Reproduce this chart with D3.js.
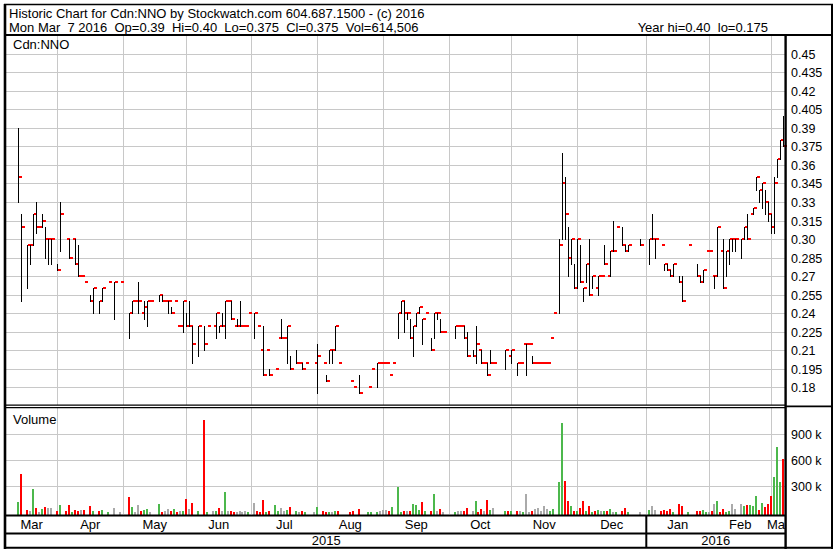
<!DOCTYPE html>
<html><head><meta charset="utf-8">
<script src="https://cdn.jsdelivr.net/npm/d3@7"></script>
<style>
html,body{margin:0;padding:0;background:#fff;}
svg{display:block;font-family:"Liberation Sans",Arial,sans-serif;}
</style></head><body>
<svg id="c" width="838" height="553"></svg>
<script>
// ---------- DATA ----------
const headerTitle = "Historic Chart for Cdn:NNO by Stockwatch.com 604.687.1500 - (c) 2016";
const headerDay = "Mon Mar  7 2016  Op=0.39  Hi=0.40  Lo=0.375  Cl=0.375  Vol=614,506";
const headerYear = "Year hi=0.40  lo=0.175";
const symbolLabel = "Cdn:NNO";
const volumeLabel = "Volume";
const startDate = "2015-03-09";   // weekday index 0
const lastIndex = 260;            // 2016-03-07

// weekday index of each trading bar
const dayIdx = [4,5,7,8,9,10,11,12,13,14, 15,17,18,20,21,22,23,24,25,26,
 28,29,31,32,34,36,38,41,42,43, 44,45,46,47,48,51,52,53,54,55,
 56,57,58,59,60,61,62,64,66,67, 69,70,71,72,73,74,75,76,77,78,
 79,80,81,83,84,85,86,87,88,90, 91,92,93,94,95,97,98,99,100,103,
 104,106,107,108,109,110,111,115,116,118, 121,122,124,125,126,127,128,129,131,132,
 133,134,135,136,137,138,139,140,142,143, 144,145,146,150,151,152,153,154,156,157,
 158,159,160,161,162,163,167,168,169,171, 172,173,174,175,176,177,178,179,180,181,
 182,183,185,186,187,188,189,190,191,192, 193,194,195,196,197,198,199,200,201,202,
 203,204,206,207,208,212,215,216,217,219, 220,221,222,223,225,226,228,231,232,233,
 234,235,236,237,238,239,240,241,242,243, 244,246,247,248,249,250,251,252,253,254,
 255,256,257,258,259,260];
const high = [.39,.32,.295,.295,.32,.33,.31,.32,.31,.30, .30,.28,.33,.30,.30,.30,.30,.295,.27,.265,
 .255,.26,.25,.26,.265,.265,.265,.24,.25,.25, .265,.24,.25,.25,.25,.255,.255,.25,.25,.245,
 .25,.23,.23,.25,.24,.25,.23,.23,.23,.23, .23,.24,.23,.24,.25,.25,.25,.23,.235,.25,
 .23,.23,.24,.24,.23,.21,.23,.21,.195,.195, .22,.235,.22,.23,.205,.21,.20,.20,.20,.20,
 .215,.20,.19,.21,.21,.23,.20,.185,.18,.19, .18,.195,.20,.20,.20,.20,.19,.20,.24,.25,
 .25,.24,.235,.23,.24,.245,.235,.24,.22,.24, .24,.235,.225,.23,.23,.23,.23,.225,.21,.23,
 .21,.21,.20,.20,.21,.20,.21,.205,.21,.20, .20,.215,.215,.215,.205,.20,.20,.20,.20,.20,
 .22,.24,.30,.37,.35,.31,.30,.28,.30,.295, .26,.28,.30,.27,.26,.27,.27,.295,.27,.29,
 .315,.31,.31,.295,.295,.30,.30,.32,.30,.295, .28,.28,.275,.28,.27,.27,.295,.28,.27,.275,
 .29,.29,.27,.27,.31,.29,.30,.29,.30,.30, .30,.30,.31,.32,.32,.325,.35,.34,.345,.34,
 .33,.32,.35,.365,.38,.40];
const low = [.33,.25,.26,.28,.295,.305,.31,.31,.285,.28, .28,.275,.29,.30,.285,.30,.28,.27,.27,.265,
 .25,.24,.24,.25,.265,.235,.265,.22,.24,.25, .24,.24,.235,.23,.25,.25,.25,.25,.24,.24,
 .25,.23,.23,.225,.23,.23,.20,.205,.21,.23, .23,.22,.225,.23,.22,.25,.235,.23,.23,.23,
 .23,.23,.24,.22,.23,.21,.19,.21,.19,.195, .22,.22,.22,.20,.195,.20,.20,.195,.20,.20,
 .175,.20,.185,.20,.20,.21,.20,.185,.18,.175, .18,.195,.18,.20,.20,.20,.19,.20,.22,.24,
 .225,.235,.22,.205,.23,.24,.215,.24,.21,.22, .235,.225,.225,.22,.23,.23,.22,.205,.205,.20,
 .21,.20,.20,.19,.20,.20,.195,.205,.20,.19, .20,.215,.19,.215,.20,.20,.20,.20,.20,.20,
 .22,.24,.24,.30,.30,.27,.28,.26,.26,.265, .25,.265,.255,.26,.26,.255,.27,.28,.27,.27,
 .29,.31,.295,.29,.29,.295,.28,.30,.285,.295, .275,.275,.27,.27,.265,.25,.295,.27,.265,.265,
 .29,.29,.27,.26,.27,.29,.26,.27,.28,.29, .29,.285,.30,.30,.32,.32,.34,.33,.325,.32,
 .315,.305,.305,.35,.365,.375];
const close = [.35,.31,.295,.295,.32,.31,.31,.315,.30,.30, .30,.275,.32,.30,.285,.30,.28,.27,.27,.265,
 .25,.26,.25,.26,.265,.265,.265,.24,.25,.25, .25,.24,.245,.25,.25,.255,.25,.25,.25,.24,
 .25,.23,.23,.25,.23,.23,.215,.23,.215,.23, .23,.24,.23,.23,.25,.25,.235,.23,.23,.23,
 .23,.23,.24,.24,.23,.21,.19,.21,.19,.195, .22,.22,.22,.23,.195,.20,.20,.195,.20,.20,
 .205,.20,.185,.21,.21,.23,.20,.185,.18,.175, .18,.195,.20,.20,.20,.20,.19,.20,.24,.25,
 .24,.24,.22,.23,.24,.245,.235,.24,.21,.24, .24,.225,.225,.23,.23,.23,.22,.205,.205,.215,
 .21,.20,.20,.19,.20,.20,.21,.205,.21,.20, .20,.215,.215,.215,.20,.20,.20,.20,.20,.20,
 .22,.24,.295,.345,.32,.285,.30,.26,.30,.265, .26,.28,.255,.27,.26,.27,.27,.28,.27,.29,
 .29,.31,.295,.29,.295,.295,.30,.30,.30,.295, .28,.275,.27,.28,.265,.25,.295,.27,.265,.275,
 .29,.29,.27,.27,.31,.29,.26,.29,.30,.30, .30,.30,.31,.30,.32,.325,.35,.34,.345,.33,
 .32,.31,.345,.365,.38,.375];
const volume = [121000,444000,29000,10000,271000,52000,8000,35000,63000,46000, 52000,17000,87000,10000,87000,5000,29000,17000,29000,29000,
 75000,17000,10000,29000,5000,52000,5000,179000,63000,5000, 87000,10000,29000,40000,8000,98000,5000,17000,40000,10000,
 40000,5000,10000,10000,156000,40000,110000,10000,1060000,5000, 10000,17000,52000,10000,237000,10000,10000,5000,5000,10000,
 5000,10000,5000,110000,10000,5000,144000,5000,17000,87000, 17000,52000,10000,29000,63000,10000,5000,17000,5000,5000,
 63000,10000,5000,5000,5000,17000,10000,5000,17000,40000, 5000,5000,5000,10000,29000,29000,10000,63000,294000,5000,
 17000,10000,17000,98000,87000,30000,121000,10000,10000,213000, 17000,40000,5000,5000,17000,10000,10000,52000,10000,133000,
 5000,40000,10000,144000,29000,52000,17000,10000,17000,17000, 17000,5000,213000,5000,17000,40000,52000,10000,75000,40000,
 10000,40000,352000,1033000,363000,133000,75000,10000,17000,52000, 133000,10000,75000,5000,17000,29000,10000,17000,10000,40000,
 5000,5000,17000,52000,5000,5000,29000,75000,29000,10000, 29000,10000,40000,5000,98000,75000,5000,10000,10000,29000,
 5000,5000,17000,98000,133000,5000,40000,5000,17000,98000, 40000,98000,75000,87000,87000,75000,190000,29000,110000,63000,
 98000,190000,410000,752000,352000,614506];

const priceTicks = [0.18,0.195,0.21,0.225,0.24,0.255,0.27,0.285,0.30,0.315,0.33,0.345,0.36,0.375,0.39,0.405,0.42,0.435,0.45];
const priceTickLabels = ["0.18","0.195","0.21","0.225","0.24","0.255","0.27","0.285","0.30","0.315","0.33","0.345","0.36","0.375","0.39","0.405","0.42","0.435","0.45"];
const volumeTicks = [300000,600000,900000];
const volumeTickLabels = ["300 k","600 k","900 k"];
const monthLabels = ["Mar","Apr","May","Jun","Jul","Aug","Sep","Oct","Nov","Dec","Jan","Feb","Mar"];
const yearLabels = ["2015","2016"];

// ---------- LAYOUT ----------
const plotL = 6, plotR = 785;
const priceTop = 36, priceBot = 405;
const volTop = 408, volBot = 514;
const svg = d3.select("#c");

const x = d3.scaleLinear().domain([0, lastIndex]).range([6.5, 783.2]);
const yP = d3.scaleLinear().domain([0.18, 0.45]).range([387.3, 53.8]);
const yV = d3.scaleLinear().domain([0, 900000]).range([512.3, 434.3]);

// weekday calendar
const t0 = d3.utcParse("%Y-%m-%d")(startDate);
const cal = [];
for (let d = t0; cal.length <= lastIndex; d = d3.utcDay.offset(d, 1)) {
  const wd = d.getUTCDay();
  if (wd > 0 && wd < 6) cal.push(d);
}
const monthBounds = [];
for (let k = 1; k < cal.length; k++) {
  if (cal[k].getUTCMonth() !== cal[k-1].getUTCMonth()) {
    const first = d3.utcMonth.floor(cal[k]);
    monthBounds.push(+first === +cal[k] ? k : k - 1);
  }
}
const boundX = monthBounds.map(k => Math.round(x(k)) + 0.3);
const yearBoundX = boundX[monthLabels.indexOf("Jan") - 1];

const grid = "#c8c8c8";
const gGrid = svg.append("g").attr("stroke", grid).attr("stroke-width", 1).attr("shape-rendering","crispEdges");
boundX.forEach(bx => {
  gGrid.append("line").attr("x1", bx).attr("x2", bx).attr("y1", priceTop).attr("y2", priceBot);
  gGrid.append("line").attr("x1", bx).attr("x2", bx).attr("y1", volTop).attr("y2", volBot);
});
priceTicks.forEach(v => {
  const yy = Math.round(yP(v)) + 0.5;
  gGrid.append("line").attr("x1", plotL).attr("x2", plotR).attr("y1", yy).attr("y2", yy);
});
volumeTicks.forEach(v => {
  const yy = Math.round(yV(v)) + 0.5;
  gGrid.append("line").attr("x1", plotL).attr("x2", plotR).attr("y1", yy).attr("y2", yy);
});

// ---------- PRICE BARS ----------
const bars = dayIdx.map((k, j) => ({k, h: high[j], l: low[j], c: close[j], v: volume[j], pc: j > 0 ? close[j-1] : null}));
const gTicks = svg.append("g").attr("shape-rendering","crispEdges");
const gBars = svg.append("g").attr("shape-rendering","crispEdges");
bars.forEach(b => {
  const px = Math.round(x(b.k));
  if (b.h !== b.l) {
    gBars.append("rect").attr("x", px).attr("width", 1)
      .attr("y", Math.round(yP(b.h))).attr("height", Math.max(1, Math.round(yP(b.l)) - Math.round(yP(b.h)) + 1))
      .attr("fill", "#000");
  }
  gTicks.append("rect").attr("x", px + 1).attr("width", 3)
    .attr("y", Math.round(yP(b.c)) - 1).attr("height", 2).attr("fill", "#ff0000");
});

// ---------- VOLUME BARS ----------
const gVol = svg.append("g").attr("shape-rendering","crispEdges");
bars.forEach(b => {
  const px = Math.round(x(b.k));
  let col = "#aaaaaa";
  if (b.pc === null || b.c > b.pc) col = "#4cb84c";
  else if (b.c < b.pc) col = "#ff0000";
  const top = Math.round(yV(b.v));
  gVol.append("rect").attr("x", px - 1).attr("width", 2)
    .attr("y", top).attr("height", Math.max(1, 515 - top)).attr("fill", col);
});

// ---------- FRAME ----------
const gF = svg.append("g").attr("stroke", "#000").attr("fill", "none");
const ln = (x1, y1, x2, y2, w) => gF.append("line").attr("x1", x1).attr("y1", y1).attr("x2", x2).attr("y2", y2).attr("stroke-width", w);
ln(4, 4.5, 833, 4.5, 1.6);            // top
ln(5, 4, 5, 549, 2.6);                // left
ln(832, 4, 832, 549, 2);              // right
ln(4, 547.8, 833, 547.8, 2);          // bottom
ln(4, 35, 833, 35, 2);                // header separator
ln(785.6, 35, 785.6, 549, 2.4);       // plot right
ln(5, 405.2, 785, 405.2, 1.2);        // double line
ln(5, 407.6, 785, 407.6, 1.2);
ln(785, 406.4, 833, 406.4, 1.6);
ln(5, 515.6, 786, 515.6, 2);          // x axis
ln(5, 533.6, 786, 533.6, 2);          // month row bottom
ln(yearBoundX, 515, yearBoundX, 548, 2); // year divider

// ---------- TEXT ----------
const gT = svg.append("g").attr("fill", "#000").style("font-size", "13px");
gT.append("text").attr("x", 9).attr("y", 18).text(headerTitle);
gT.append("text").attr("x", 9).attr("y", 31.5).attr("xml:space", "preserve").style("white-space", "pre").text(headerDay);
gT.append("text").attr("x", 768).attr("y", 31.5).attr("text-anchor", "end").attr("xml:space", "preserve").style("white-space", "pre").text(headerYear);

gT.append("text").attr("x", 13).attr("y", 49).text(symbolLabel);
gT.append("text").attr("x", 13).attr("y", 424).text(volumeLabel);

priceTicks.forEach((v, j) => {
  gT.append("text").attr("x", 791).attr("y", Math.round(yP(v)) + 5).style("font-size", "12.5px").text(priceTickLabels[j]);
});
volumeTicks.forEach((v, j) => {
  gT.append("text").attr("x", 791).attr("y", Math.round(yV(v)) + 5).style("font-size", "12.5px").text(volumeTickLabels[j]);
});

svg.append("clipPath").attr("id", "mclip").append("rect").attr("x", plotL).attr("y", 515).attr("width", plotR - plotL).attr("height", 20);
const edges = [plotL, ...boundX, plotR];
const gM = svg.append("g").attr("clip-path", "url(#mclip)").style("font-size", "13px").attr("text-anchor", "middle");
monthLabels.forEach((m, j) => {
  gM.append("text").attr("x", (edges[j] + edges[j+1]) / 2).attr("y", 529).text(m);
});
const yEdges = [plotL, yearBoundX, plotR];
yearLabels.forEach((yl, j) => {
  gT.append("text").attr("x", (yEdges[j] + yEdges[j+1]) / 2).attr("y", 545).attr("text-anchor", "middle").text(yl);
});
</script>
</body></html>
